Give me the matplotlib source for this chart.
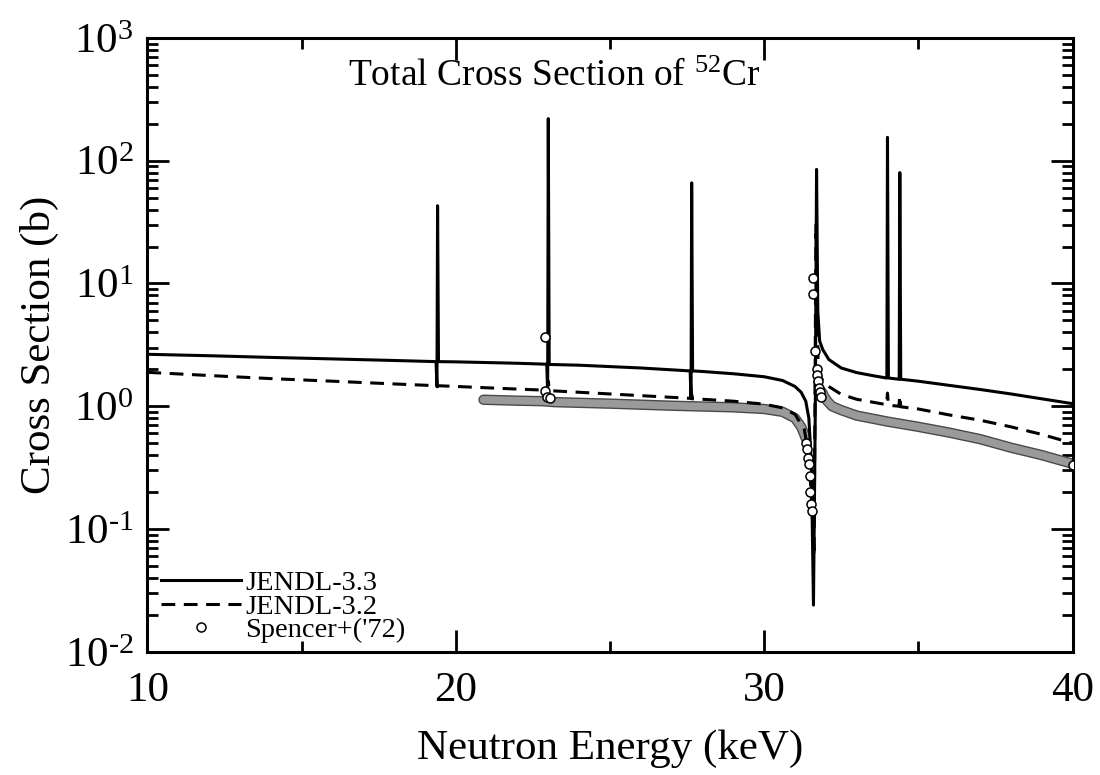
import matplotlib
matplotlib.use("Agg")
import matplotlib.pyplot as plt
import matplotlib.patheffects as pe
from matplotlib.ticker import LogLocator, MultipleLocator, FuncFormatter
import numpy as np

plt.rcParams['font.family'] = ['Liberation Serif', 'DejaVu Serif']
plt.rcParams['mathtext.fontset'] = 'custom'
plt.rcParams['mathtext.rm'] = 'Liberation Serif'
plt.rcParams['mathtext.it'] = 'Liberation Serif:italic'

# JENDL-3.3 total cross section (keV, barn)
e33 = [10, 12, 14, 16, 18, 19.36, 19.39, 19.41, 19.44, 20, 22, 22.95, 22.98, 23.0, 23.03,
       24, 26, 27.6, 27.63, 27.65, 27.68, 28, 29, 30, 30.6, 31.0, 31.2, 31.35, 31.45,
       31.53, 31.6, 31.66, 31.70, 31.74, 31.8, 31.9, 32.1, 32.5, 33.0, 33.5, 33.96, 33.98,
       34.0, 34.03, 34.36, 34.38, 34.4, 34.43, 35, 36, 37, 38, 39, 40]
s33 = [2.65, 2.58, 2.5, 2.43, 2.36, 2.31, 1.45, 43, 2.31, 2.3, 2.24, 2.2, 1.3, 220, 2.19,
       2.16, 2.05, 1.94, 1.15, 66, 1.94, 1.92, 1.84, 1.74, 1.62, 1.45, 1.3, 1.1, 0.8,
       0.35, 0.024, 1.0, 85, 6.0, 3.4, 2.9, 2.4, 2.05, 1.88, 1.78, 1.7, 1.7, 155, 1.7,
       1.66, 1.66, 80, 1.66, 1.6, 1.48, 1.37, 1.26, 1.15, 1.05]

# JENDL-3.2 total cross section
e32 = [10, 12, 14, 16, 18, 19.38, 19.40, 19.42, 20, 22, 22.96, 23.0, 23.04, 24, 26,
       27.62, 27.65, 27.68, 28, 29, 30, 30.6, 31.0, 31.3, 31.45, 31.55, 31.62, 31.68,
       31.75, 31.85, 32.0, 32.5, 33.0, 33.97, 34.0, 34.03, 34.37, 34.4, 34.43, 35, 36,
       37, 38, 39, 40]
s32 = [1.89, 1.78, 1.68, 1.6, 1.52, 1.47, 1.44, 1.47, 1.45, 1.38, 1.35, 1.6, 1.34, 1.3, 1.22,
       1.16, 1.25, 1.15, 1.14, 1.1, 1.04, 0.97, 0.86, 0.65, 0.4, 0.15, 0.06, 30, 2.2,
       1.7, 1.5, 1.25, 1.14, 1.03, 1.28, 1.02, 1.0, 1.22, 0.99, 0.95, 0.85, 0.77, 0.68,
       0.59, 0.5]

# Spencer+('72): densely measured parts of the data
e_sp_lo = [20.9, 22, 22.8, 23.2, 25, 27, 29, 30, 30.6, 31.0, 31.2, 31.35]
s_sp_lo = [1.13, 1.11, 1.1, 1.08, 1.05, 1.01, 0.98, 0.95, 0.9, 0.8, 0.68, 0.55]
e_sp_hi = [31.88, 31.95, 32.05, 32.2, 32.5, 33, 34, 35, 36, 37, 38, 39, 40]
s_sp_hi = [1.3, 1.2, 1.1, 1.0, 0.93, 0.84, 0.75, 0.68, 0.61, 0.54, 0.46, 0.4, 0.34]

# Spencer+('72): resolved individual points
e_sp = [22.9, 22.9, 22.95, 23.05, 31.35, 31.4, 31.42, 31.45, 31.48, 31.5, 31.52,
        31.54, 31.58, 31.6, 31.66, 31.7, 31.72, 31.75, 31.78, 31.8, 31.85, 40.0]
s_sp = [3.7, 1.33, 1.2, 1.16, 0.5, 0.45, 0.38, 0.34, 0.27, 0.2, 0.16,
        0.14, 11, 8.2, 2.8, 2.0, 1.8, 1.6, 1.4, 1.3, 1.2, 0.33]


def pow10(v, pos):
    # plain hyphen in the exponent instead of a minus sign
    n = int(round(np.log10(v)))
    return r'$\mathregular{10^{%s}}$' % str(n).replace('-', '\u2010')


fig = plt.figure(figsize=(11, 7.75), dpi=100)
ax = fig.add_axes([0.134, 0.159, 0.841, 0.792])

band = dict(color='#9a9a9a', lw=5.5, solid_capstyle='round', zorder=2,
            path_effects=[pe.Stroke(linewidth=7.5, foreground='#4a4a4a'), pe.Normal()])
ax.plot(e_sp_lo, s_sp_lo, **band)
ax.plot(e_sp_hi, s_sp_hi, **band)

ax.plot(e33, s33, color='black', lw=2.2, label='JENDL-3.3', zorder=4)
ax.plot(e32, s32, color='black', lw=2.2, ls=(0, (4.5, 2.8)), label='JENDL-3.2', zorder=3)
ax.plot(e_sp, s_sp, ls='none', marker='o', ms=6.5, mfc='white', mec='black', mew=1.1,
        label="Spencer+('72)", zorder=5)

ax.set_yscale('log')
ax.set_xlim(10, 40)
ax.set_ylim(1e-2, 1e3)

ax.xaxis.set_major_locator(MultipleLocator(10))
ax.xaxis.set_minor_locator(MultipleLocator(5))
ax.yaxis.set_major_locator(LogLocator(base=10, numticks=10))
ax.yaxis.set_minor_locator(LogLocator(base=10, subs=range(2, 10), numticks=20))
ax.yaxis.set_major_formatter(FuncFormatter(pow10))

ax.tick_params(which='both', direction='in', top=True, right=True, width=2)
ax.tick_params(which='major', length=16, labelsize=31)
ax.tick_params(axis='x', which='major', pad=14)
ax.tick_params(axis='y', which='major', pad=10)
ax.tick_params(which='minor', length=8)
for s in ax.spines.values():
    s.set_linewidth(2.2)

ax.set_xlabel('Neutron Energy (keV)', fontsize=31, labelpad=14)
ax.set_ylabel('Cross Section (b)', fontsize=31, labelpad=4)

ax.text(23.2, 480, 'Total Cross Section of $^{52}$Cr', fontsize=27,
        ha='center', va='center')

leg = ax.legend(loc='lower left', bbox_to_anchor=(0.006, 0.0), frameon=False,
                fontsize=20.5, handlelength=2.8, handletextpad=0.15, labelspacing=-0.08,
                borderaxespad=0.2, borderpad=0.1)

fig.savefig('out.png', dpi=100)
